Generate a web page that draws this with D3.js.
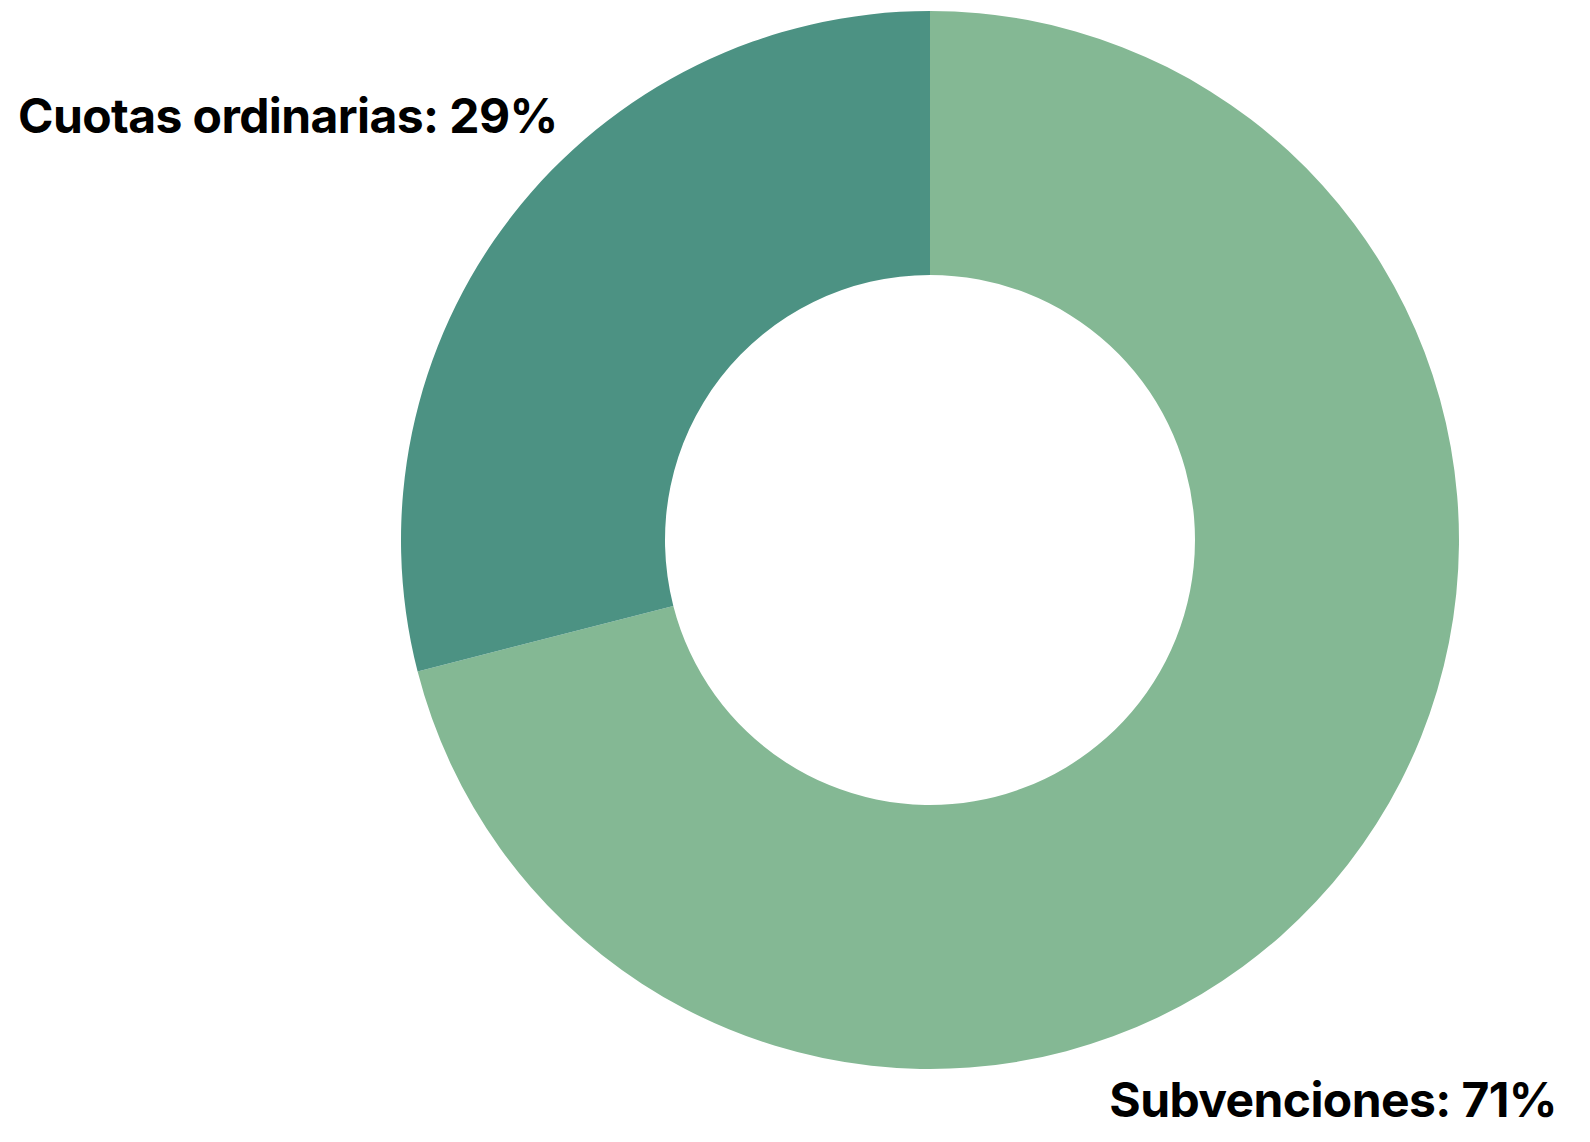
<!DOCTYPE html>
<html>
<head>
<meta charset="utf-8">
<script src="https://cdn.jsdelivr.net/npm/d3@7"></script>
<style>
  body { margin: 0; background: #fff; }
  text { font-family: Inter, "Noto Sans", sans-serif; font-weight: 700; letter-spacing: -0.6px; }
</style>
</head>
<body>
<div id="chart"></div>
<script>
// data
var categories = ["Subvenciones", "Cuotas ordinarias"];
var values = [71, 29];
var colors = ["#84b894", "#4c9283"];

var w = 1590;
var h = 1142;
var cx = 930;
var cy = 540;
var outerR = 529;
var innerR = 265;

var svg = d3.select("#chart")
            .append("svg")
            .attr("width", w)
            .attr("height", h);

var pie = d3.pie()
            .sort(null)
            .value(function(d) { return d; });

var arc = d3.arc()
            .innerRadius(innerR)
            .outerRadius(outerR);

var g = svg.append("g")
           .attr("transform", "translate(" + cx + "," + cy + ")");

g.selectAll("path")
 .data(pie(values))
 .enter()
 .append("path")
 .attr("d", arc)
 .attr("fill", function(d, i) { return colors[i]; });

// labels
var labels = [
  { x: w - 33, y: h - 25, anchor: "end" },
  { x: 18, y: 133, anchor: "start" }
];

svg.selectAll("text.label")
   .data(categories)
   .enter()
   .append("text")
   .attr("class", "label")
   .attr("x", function(d, i) { return labels[i].x; })
   .attr("y", function(d, i) { return labels[i].y; })
   .attr("text-anchor", function(d, i) { return labels[i].anchor; })
   .attr("font-size", "48px")
   .attr("fill", "#000")
   .text(function(d, i) { return d + ": " + values[i] + "%"; });
</script>
</body>
</html>
